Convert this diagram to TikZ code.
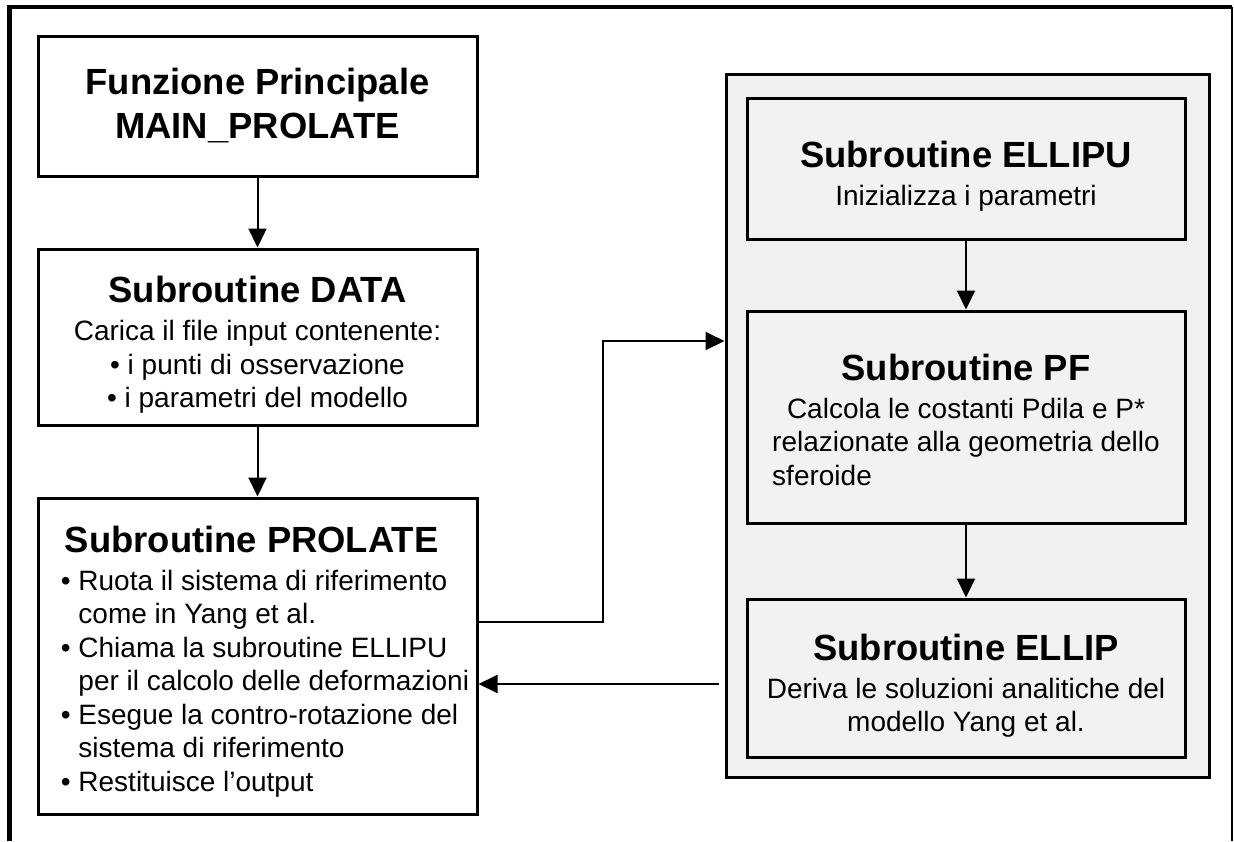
\documentclass[tikz,border=0pt]{standalone}
\usepackage{fontspec}
\setmainfont{Liberation Sans}
\usepackage{tikz}
\usetikzlibrary{arrows.meta,positioning}

\definecolor{panelgrey}{RGB}{240,240,240}
\definecolor{boxgrey}{RGB}{242,242,242}
\newcommand{\boxtitle}[1]{{\fontsize{36.4}{44}\selectfont\bfseries\rule{0pt}{42pt}#1}}
\newcommand{\bulpad}{\hphantom{•\ }}

\begin{document}
\begin{tikzpicture}[
  x=1pt, y=-1pt,
  box/.style={rectangle, draw, line width=3pt, minimum width=439pt, align=center, inner sep=6pt, fill=white, font=\fontsize{28}{33.5}\selectfont},
  subbox/.style={box, minimum width=438pt, fill=boxgrey},
  panel/.style={rectangle, draw, line width=3pt, minimum width=483pt, minimum height=703pt, fill=panelgrey},
  >={Triangle[length=19pt, width=18pt]}
]
\useasboundingbox (0,0) rectangle (1234,841);

% cornice esterna
\draw[line width=4.5pt] (9.5,841) -- (9.5,7) -- (1232,7);
\draw[line width=1.5pt] (1232,7) -- (1232,841);

% colonna sinistra
\node[box, minimum height=140pt, font=\fontsize{36.4}{44}\selectfont\bfseries] (main) at (257.5,106)
  {Funzione Principale\\MAIN\_PROLATE};
\node[box, minimum height=176pt, below=70pt of main] (data)
  {\boxtitle{Subroutine DATA}\\[4.5pt]
   Carica il file input contenente:\\
   • i punti di osservazione\\
   • i parametri del modello};
\node[box, minimum height=316pt, below=70pt of data] (prolate)
  {\begin{tabular}{@{}l@{\hspace{-15pt}}}
   \hspace*{4pt}\boxtitle{Subroutine PROLATE}\\[4.5pt]
   • Ruota il sistema di riferimento\\
   \bulpad come in Yang et al.\\
   • Chiama la subroutine ELLIPU\\
   \bulpad per il calcolo delle deformazioni\\
   • Esegue la contro-rotazione del\\
   \bulpad sistema di riferimento\\
   • Restituisce l’output
   \end{tabular}};

% colonna destra
\node[panel] (cont) at (967.5,425.5) {};
\node[subbox, minimum height=141pt] (ellipu) at (966,168.5)
  {\boxtitle{Subroutine ELLIPU}\\[4.5pt]
   Inizializza i parametri};
\node[subbox, minimum height=212pt, below=69pt of ellipu] (pf)
  {\boxtitle{Subroutine PF}\\[4.5pt]
   Calcola le costanti Pdila e P*\\
   \begin{tabular}[t]{@{}l@{}}relazionate alla geometria dello\\ sferoide\end{tabular}};
\node[subbox, minimum height=158pt, below=73pt of pf] (ellip)
  {\boxtitle{Subroutine ELLIP}\\[4.5pt]
   Deriva le soluzioni analitiche del\\
   modello Yang et al.};

\coordinate (retstart) at ([xshift=-6pt, yshift=-258.5pt]cont.west);

\draw[->, line width=2pt] (main) -- (data);
\draw[->, line width=2pt] (data) -- (prolate);
\draw[->, line width=2pt] (ellipu) -- (pf);
\draw[->, line width=2pt] (pf) -- (ellip);
\draw[->, line width=2pt] ([yshift=34pt]prolate.east) -- ++(124pt,0) |- ([yshift=84.5pt]cont.west);
\draw[->, line width=2pt] (retstart) -- (prolate.east |- retstart);
\end{tikzpicture}
\end{document}
